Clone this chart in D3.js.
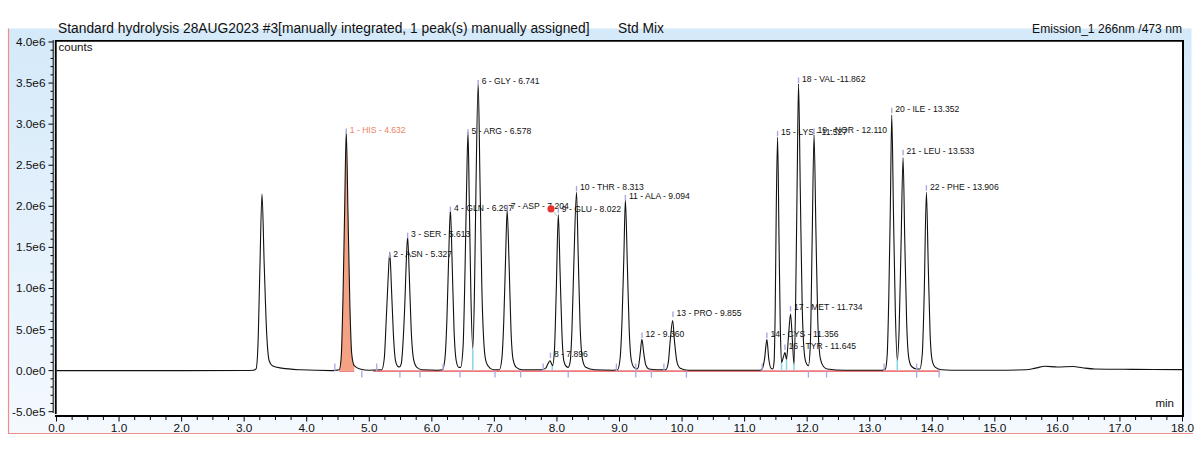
<!DOCTYPE html>
<html><head><meta charset="utf-8">
<script src="https://cdn.jsdelivr.net/npm/d3@7"></script>
<style>
html,body{margin:0;padding:0;background:#fff;}
svg{display:block;font-family:"Liberation Sans",Arial,Helvetica,sans-serif;}
</style></head>
<body>
<svg id="chart" width="1200" height="460"></svg>
<script>
// ---------------- DATA ----------------
const titleLeft = "Standard hydrolysis 28AUG2023 #3[manually integrated, 1 peak(s) manually assigned]";
const titleMid = "Std Mix";
const titleRight = "Emission_1 266nm /473 nm";
const yUnitLabel = "counts";
const xUnitLabel = "min";

const xTickValues = [0,1,2,3,4,5,6,7,8,9,10,11,12,13,14,15,16,17,18];
const xTickLabels = ["0.0","1.0","2.0","3.0","4.0","5.0","6.0","7.0","8.0","9.0","10.0","11.0","12.0","13.0","14.0","15.0","16.0","17.0","18.0"];
const yTickValues = [-5e5,0,5e5,1e6,1.5e6,2e6,2.5e6,3e6,3.5e6,4e6];
const yTickLabels = ["-5.0e5","0.0e0","5.0e5","1.0e6","1.5e6","2.0e6","2.5e6","3.0e6","3.5e6","4.0e6"];

// chromatogram trace: [retention time (min), signal (millions of counts)]
const MILLION = 1e6;
const traceTime = [
0,1,2,3,3.15,
3.19,3.22,3.25,3.285,3.32,3.36,3.40,3.45,3.6,3.9,4.4,
4.52,4.55,4.58,4.605,4.632,4.66,4.69,4.72,4.76,4.85,5.0,
5.20,5.24,5.27,5.30,5.327,5.355,5.385,5.42,5.46,5.48,
5.51,5.54,5.57,5.59,5.613,5.64,5.67,5.71,5.76,5.85,6.1,
6.17,6.21,6.24,6.27,6.297,6.325,6.355,6.39,6.43,
6.46,6.50,6.53,6.555,6.578,6.60,6.625,6.655,
6.68,6.705,6.741,6.77,6.80,6.835,6.87,6.93,7.0,
7.08,7.12,7.15,7.18,7.204,7.235,7.265,7.30,7.35,7.45,
7.75,7.82,7.86,7.89,7.91,7.93,
7.96,7.99,8.022,8.05,8.08,8.11,8.15,8.18,
8.21,8.24,8.27,8.313,8.34,8.37,8.41,8.46,8.6,8.9,
8.97,9.01,9.04,9.07,9.094,9.125,9.155,9.19,9.23,9.28,
9.30,9.33,9.358,9.39,9.42,9.47,9.6,
9.74,9.78,9.815,9.85,9.88,9.92,9.97,10.1,
11.25,11.28,11.32,11.356,11.385,11.42,11.45,
11.47,11.49,11.505,11.527,11.55,11.57,11.59,
11.625,11.645,11.67,
11.70,11.734,11.765,11.79,
11.815,11.84,11.862,11.89,11.92,11.95,11.98,12.02,
12.05,12.08,12.11,12.14,12.17,12.21,12.26,12.32,12.6,
13.2,13.25,13.28,13.305,13.33,13.352,13.38,13.41,13.44,
13.47,13.50,13.533,13.56,13.59,13.625,13.67,13.75,
13.80,13.84,13.87,13.906,13.935,13.965,14.0,14.05,14.15,14.3,
15.0,15.5,15.65,15.8,16.0,16.25,16.4,16.6,17.2,18
];
const traceSignal = [
0,0,0,0.002,0.005,
0.02,0.3,1.2,2.15,1.3,0.45,0.12,0.06,0.03,0.01,0.0,
0.01,0.15,0.9,1.9,2.91,1.9,0.8,0.2,0.06,0.02,0.005,
0.01,0.15,0.6,1.1,1.44,1.0,0.45,0.12,0.05,0.045,
0.08,0.35,0.85,1.3,1.63,1.15,0.5,0.13,0.04,0.01,0.005,
0.01,0.15,0.6,1.4,1.96,1.3,0.5,0.12,0.04,
0.04,0.3,1.2,2.2,2.9,2.0,0.9,0.27,
0.9,2.2,3.49,2.3,1.0,0.3,0.1,0.03,0.01,
0.01,0.15,0.6,1.4,1.95,1.3,0.5,0.13,0.04,0.01,
0.01,0.03,0.09,0.12,0.09,0.06,
0.25,1.0,1.9,1.2,0.45,0.12,0.05,0.04,
0.1,0.5,1.3,2.17,1.4,0.55,0.13,0.04,0.01,0.005,
0.01,0.15,0.6,1.4,2.08,1.3,0.5,0.12,0.04,0.02,
0.04,0.2,0.38,0.2,0.07,0.02,0.01,
0.01,0.1,0.4,0.61,0.35,0.1,0.03,0.005,
0.005,0.02,0.15,0.38,0.15,0.03,0.02,
0.1,0.8,1.9,2.84,1.6,0.55,0.1,
0.18,0.22,0.14,
0.4,0.69,0.35,0.08,
0.8,2.3,3.49,2.2,0.8,0.25,0.1,0.06,
0.3,1.6,2.87,1.7,0.6,0.15,0.05,0.02,0.005,
0.005,0.02,0.2,0.9,2.0,3.11,1.9,0.7,0.13,
0.5,1.5,2.59,1.6,0.6,0.15,0.05,0.02,
0.02,0.2,0.9,2.17,1.3,0.45,0.12,0.04,0.01,0.005,
0.005,0.01,0.03,0.053,0.045,0.05,0.035,0.02,0.015,0.012
];

// peak annotations: label text, retention time, label height (millions of counts)
const peakText = ["1 - HIS - 4.632","2 - ASN - 5.327","3 - SER - 5.613","4 - GLN - 6.297","5 - ARG - 6.578","6 - GLY - 6.741","7 - ASP - 7.204","8 - 7.896","9 - GLU - 8.022","10 - THR - 8.313","11 - ALA - 9.094","12 - 9.360","13 - PRO - 9.855","14 - CYS - 11.356","15 - LYS - 11.527","16 - TYR - 11.645","17 - MET - 11.734","18 - VAL -11.862","19 - NOR - 12.110","20 - ILE - 13.352","21 - LEU - 13.533","22 - PHE - 13.906"];
const peakTime = [4.632,5.327,5.613,6.297,6.578,6.741,7.204,7.896,8.022,8.313,9.094,9.360,9.855,11.356,11.527,11.645,11.734,11.862,12.110,13.352,13.533,13.906];
const peakLabelLevel = [2.93,1.42,1.66,1.98,2.92,3.52,2.00,0.20,1.97,2.23,2.12,0.445,0.70,0.445,2.90,0.30,0.77,3.55,2.93,3.18,2.67,2.24];

// integration events
const eventsAbove = [4.45,5.12,6.18,7.78,8.95,9.26,9.71,11.28,13.23,13.75];
const eventsBelow = [4.88,5.49,5.81,6.45,7.01,7.42,8.18,9.26,9.51,10.07,12.02,12.31,13.75,14.11];
const dropTime = [6.655,7.925,11.59,11.67,11.79,13.44];
const dropLevel = [0.27,0.06,0.10,0.14,0.08,0.13];
const integratedRanges = [[4.52,4.76],[5.06,14.12]];
const filledRange = [4.52,4.76];
const manualMark = [7.905, 1.97];

// ---------------- DRAWING ----------------
const svg = d3.select("#chart");
const x = d3.scaleLinear().domain([0,18]).range([56.5,1182.5]);
const y = d3.scaleLinear().domain([-5e5,4e6]).range([411.7,42]);
const plotL = 56, plotR = 1183, plotT = 40, plotB = 416;

const defs = svg.append("defs");
const grad = defs.append("linearGradient").attr("id","bg").attr("x1",0).attr("y1",0).attr("x2",0).attr("y2",1);
grad.append("stop").attr("offset","0%").attr("stop-color","#d4e9f9");
grad.append("stop").attr("offset","100%").attr("stop-color","#f4f9fe");
defs.append("clipPath").attr("id","clip").append("rect")
  .attr("x",plotL).attr("y",plotT).attr("width",plotR-plotL).attr("height",plotB-plotT);

// panel
svg.append("rect").attr("x",8.5).attr("y",28.5).attr("width",1183).attr("height",405).attr("fill","url(#bg)");
svg.append("line").attr("x1",8.5).attr("x2",8.5).attr("y1",28.5).attr("y2",433.5).attr("stroke","#f08c8c").attr("stroke-width",1.2);
svg.append("line").attr("x1",8).attr("x2",1193).attr("y1",433.5).attr("y2",433.5).attr("stroke","#f08c8c").attr("stroke-width",1.2);
svg.append("rect").attr("x",plotL).attr("y",plotT).attr("width",plotR-plotL).attr("height",plotB-plotT).attr("fill","#fff");

// titles
svg.append("text").attr("x",58).attr("y",32.5).attr("font-size",13.8).attr("fill","#111").text(titleLeft);
svg.append("text").attr("x",618).attr("y",32.5).attr("font-size",13.8).attr("fill","#111").text(titleMid);
svg.append("text").attr("x",1182).attr("y",32.5).attr("font-size",12.1).attr("text-anchor","end").attr("fill","#111").text(titleRight);

const g = svg.append("g").attr("clip-path","url(#clip)");

// integrated baselines
integratedRanges.forEach(r=>{
  g.append("line").attr("x1",x(r[0])).attr("x2",x(r[1])).attr("y1",y(0)+0.5).attr("y2",y(0)+0.5)
   .attr("stroke","#f07878").attr("stroke-width",1.6);
});

const pts = traceTime.map((t,i)=>[t, traceSignal[i]*MILLION]);
// filled peak
const fillPts = pts.filter(p=>p[0]>=filledRange[0] && p[0]<=filledRange[1]);
g.append("path").datum(fillPts)
  .attr("d", d3.area().x(d=>x(d[0])).y0(y(0)).y1(d=>y(d[1])).curve(d3.curveMonotoneX))
  .attr("fill","#f4a283");

// drop lines
dropTime.forEach((t,i)=>{
  g.append("line").attr("x1",x(t)).attr("x2",x(t)).attr("y1",y(0)).attr("y2",y(dropLevel[i]*MILLION))
   .attr("stroke","#86d6ea").attr("stroke-width",1.5);
});

// trace
g.append("path").datum(pts)
  .attr("d", d3.line().x(d=>x(d[0])).y(d=>y(d[1])).curve(d3.curveMonotoneX))
  .attr("fill","none").attr("stroke","#111").attr("stroke-width",1.1);

// event markers
eventsAbove.forEach(t=>{
  g.append("line").attr("x1",x(t)).attr("x2",x(t)).attr("y1",y(0)-7).attr("y2",y(0)+1)
   .attr("stroke","#a8a8e2").attr("stroke-width",1.3);
});
eventsBelow.forEach(t=>{
  g.append("line").attr("x1",x(t)).attr("x2",x(t)).attr("y1",y(0)).attr("y2",y(0)+7)
   .attr("stroke","#a8a8e2").attr("stroke-width",1.3);
});

// peak labels
peakText.forEach((txt,i)=>{
  const px = x(peakTime[i]), py = y(peakLabelLevel[i]*MILLION);
  g.append("line").attr("x1",px).attr("x2",px).attr("y1",py-1.5).attr("y2",py+4)
   .attr("stroke","#a8a8e2").attr("stroke-width",1.4);
  g.append("text").attr("x",px+3.5).attr("y",py+3).attr("font-size",8.6)
   .attr("fill", i===0 ? "#f0805f" : "#111").text(txt);
});

// manual assignment marker
g.append("line").attr("x1",x(manualMark[0])).attr("y1",y(manualMark[1]*MILLION))
  .attr("x2",x(8.0)).attr("y2",y(1.88*MILLION)).attr("stroke","#bbb").attr("stroke-width",1);
g.append("circle").attr("cx",x(manualMark[0])).attr("cy",y(manualMark[1]*MILLION)).attr("r",3.6).attr("fill","#e8322e");

// frame
svg.append("line").attr("x1",plotL).attr("x2",plotR+1).attr("y1",40.8).attr("y2",40.8).attr("stroke","#000").attr("stroke-width",1.8);
svg.append("line").attr("x1",plotR).attr("x2",plotR).attr("y1",40).attr("y2",plotB+1).attr("stroke","#000").attr("stroke-width",2);
svg.append("line").attr("x1",55.8).attr("x2",55.8).attr("y1",40).attr("y2",414).attr("stroke","#000").attr("stroke-width",1.8);
svg.append("line").attr("x1",53.2).attr("x2",53.2).attr("y1",40).attr("y2",413).attr("stroke","#000").attr("stroke-width",1);

// y axis ticks
const yMinor = d3.range(-5, 41, 1).map(v=>v*1e5);
yMinor.forEach(v=>{
  const major = yTickValues.includes(v);
  svg.append("line").attr("x1",major?48.5:50.5).attr("x2",53).attr("y1",y(v)).attr("y2",y(v))
    .attr("stroke","#000").attr("stroke-width",1);
});
yTickValues.forEach((v,i)=>{
  svg.append("text").attr("x",45.5).attr("y",y(v)+4).attr("text-anchor","end").attr("font-size",11.8).attr("fill","#111").text(yTickLabels[i]);
});

// x axis
svg.append("line").attr("x1",55).attr("x2",plotR+1).attr("y1",plotB).attr("y2",plotB).attr("stroke","#000").attr("stroke-width",2);
const xMinor = d3.range(0, 72+1, 1).map(v=>v*0.25);
xMinor.forEach(v=>{
  const major = Math.abs(v-Math.round(v))<1e-9;
  svg.append("line").attr("x1",x(v)).attr("x2",x(v)).attr("y1",plotB).attr("y2",plotB+(major?5.5:4))
    .attr("stroke","#000").attr("stroke-width",1);
});
xTickValues.forEach((v,i)=>{
  svg.append("text").attr("x",x(v)).attr("y",432).attr("text-anchor","middle").attr("font-size",11.8).attr("fill","#111").text(xTickLabels[i]);
});

svg.append("text").attr("x",58.5).attr("y",50.5).attr("font-size",11.5).attr("fill","#111").text(yUnitLabel);
svg.append("text").attr("x",1174).attr("y",406.5).attr("text-anchor","end").attr("font-size",11.5).attr("fill","#111").text(xUnitLabel);
</script>
</body></html>
